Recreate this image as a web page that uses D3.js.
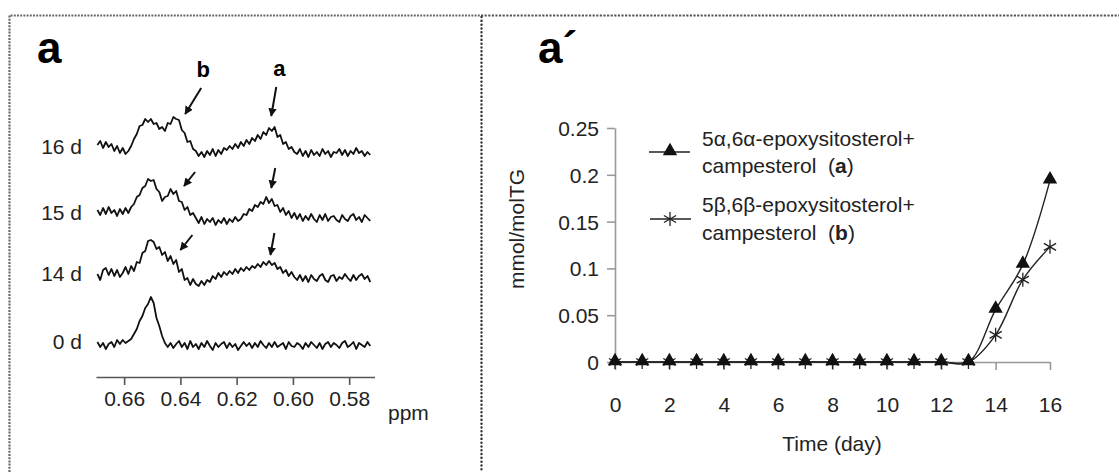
<!DOCTYPE html>
<html><head><meta charset="utf-8">
<script src="https://cdn.jsdelivr.net/npm/d3@7"></script>
<style>
html,body{margin:0;padding:0;background:#fff;}
svg{display:block;font-family:"Liberation Sans",Arial,Helvetica,sans-serif;}
</style></head>
<body>
<svg id="chart" width="1119" height="472"></svg>
<script>
// ---------- LEFT PANEL DATA (NMR spectra) ----------
const ppm = [0.6695,0.6685,0.6675,0.6665,0.6655,0.6645,0.6635,0.6625,0.6615,0.6605,
0.6595,0.6585,0.6575,0.6565,0.6555,0.6545,0.6535,0.6525,0.6515,0.6505,
0.6495,0.6485,0.6475,0.6465,0.6455,0.6445,0.6435,0.6425,0.6415,0.6405,
0.6395,0.6385,0.6375,0.6365,0.6355,0.6345,0.6335,0.6325,0.6315,0.6305,
0.6295,0.6285,0.6275,0.6265,0.6255,0.6245,0.6235,0.6225,0.6215,0.6205,
0.6195,0.6185,0.6175,0.6165,0.6155,0.6145,0.6135,0.6125,0.6115,0.6105,
0.6095,0.6085,0.6075,0.6065,0.6055,0.6045,0.6035,0.6025,0.6015,0.6005,
0.5995,0.5985,0.5975,0.5965,0.5955,0.5945,0.5935,0.5925,0.5915,0.5905,
0.5895,0.5885,0.5875,0.5865,0.5855,0.5845,0.5835,0.5825,0.5815,0.5805,
0.5795,0.5785,0.5775,0.5765,0.5755,0.5745,0.5735,0.5725];
const ppmTicks = [0.66,0.64,0.62,0.60,0.58];
const traceLabels = ["16 d","15 d","14 d","0 d"];
const spec16 = [5,9,2,8,3,6,-1,4,-3,2,-4,-1, 4,11,16,24,25,31,28, 31,26,27,21, 23,19,27,26,33,
 31,30,20,17,8,9,1, -1,-6,-2,-7,-1,-5,1,-6,0,-4,2, 0,4,1,6,2,8,4,10,6,12,9,15,11,18,15,
 22,19,23, 13,15,6,8,1,3,-2,
 -4,1,-6,-1,-7,0,-5,-2,-6,1,-4,-1,-7,-2,-3,1,-5,0,-6,-1,-4,2,-3,-1,-6,-2,-5];
const spec15 = [6,1,8,2,9,3,6,0,7,2,8,3, 9,12,19,21,28,30,37, 35,36,27,24,15,19,
 20,27,22,25,15,14,6,9,1,3, -2,-7,-1,-8,-3,-6,-2,-9,-4,-7,-2,-8,-3,-6,-1,-5,
 -3,2,1,7,5,11,9,14, 12,19,13,17,10, 11,4,8,1,5,-2,3,
 -3,2,-5,0,-4,2,-3,-6,1,-4,2,-5,-1,0,-4,-6,1,-3,-5,0,2,-4,-1,-6,1,-2,-5];
const spec14 = [3,-3,7,9,2,8,1,7,0,4,10,3, 11,6,15,14,24,26,36,
 37,35,28,30,22,25,16,21,13,17,5,8,-3,-1,-8,-2, -7,-9,-4,-8,-3,-5,
 1,-2,4,0,5,2,6,3,8,4,9,6,10,7,11,9,13,10,15,12, 16,12,14, 8,10,4,7,1,5,0,
 -3,2,-4,1,-5,2,-2,-4,1,3,-3,-5,1,2,-4,0,-2,3,-1,-4,2,-3,1,3,-2,1,-5];
const spec0 = [3,-2,2,-4,1,3,-2,5,1,5,2,4, 6,11,16,24,29,37,41,48,42,27,19,9,2,
 -2,2,-3,1,4,-2,2,-4,4,-2, 1,-4,2,-2,4,-1,-5,2,-2,1, 3,-3,2,-2,1,-5,-1,3,-1,2,
 -3,2,-2,4,0,-3,2,-2,3,-2, 0,2,-4,3,-1,-2,2,0,-4,2, -2,3,0,-3,2,-4,1,3,-2,2,
 0,-3,2,4,-2,0,3,-4,2,0, -2,3,-1];
const spectra = [spec16, spec15, spec14, spec0];

// ---------- RIGHT PANEL DATA ----------
const days = [0,1,2,3,4,5,6,7,8,9,10,11,12,13,14,15,16];
const seriesA = [0,0,0,0,0,0,0,0,0,0,0,0,0,0,0.056,0.104,0.194];
const seriesB = [0,0,0,0,0,0,0,0,0,0,0,0,0,0,0.029,0.088,0.123];
const yTicks = [0,0.05,0.1,0.15,0.2,0.25];
const xTicks = [0,2,4,6,8,10,12,14,16];
const legendA = ["5\u03b1,6\u03b1-epoxysitosterol+","campesterol  (", "a", ")"];
const legendB = ["5\u03b2,6\u03b2-epoxysitosterol+","campesterol  (", "b", ")"];

// ---------- DRAW ----------
const svg = d3.select("#chart");
const FS = 21;

// frame
svg.append("path").attr("d","M9.5,472 L9.5,15.5 L481,15.5")
  .attr("fill","none").attr("stroke","#6a6a6a").attr("stroke-width",2.2).attr("stroke-dasharray","2,1.2");
svg.append("line").attr("x1",481).attr("x2",1119).attr("y1",15.5).attr("y2",15.5)
  .attr("stroke","#555").attr("stroke-width",2.2).attr("stroke-dasharray","2.2,1.4");
svg.append("line").attr("x1",481.5).attr("x2",481.5).attr("y1",17).attr("y2",472)
  .attr("stroke","#333").attr("stroke-width",2.4).attr("stroke-linecap","round").attr("stroke-dasharray","0.1,3.7");

// left panel
const xL = d3.scaleLinear().domain([0.67,0.571]).range([96,374.5]);
const yL = d3.scaleLinear().domain([0,100]).range([0,-100]);
const traceBase = [150,216,277,345];
const left = svg.append("g");
left.append("text").attr("x",37).attr("y",63).attr("font-size",44).attr("font-weight","bold").text("a");

const lineL = d3.line().x(d=>xL(d[0])).y(d=>yL(d[1]));
spectra.forEach((s,k)=>{
  const pts = ppm.map((p,i)=>[p,s[i]]).filter(d=>d[1]!==undefined);
  left.append("path").attr("d",lineL(pts)).attr("transform",`translate(0,${traceBase[k]})`)
    .attr("fill","none").attr("stroke","#111").attr("stroke-width",1.8).attr("stroke-linejoin","round");
  left.append("text").attr("x",82).attr("y",traceBase[k]+4).attr("text-anchor","end")
    .attr("font-size",FS).attr("fill","#222").text(traceLabels[k]);
});

// arrows
const defs = svg.append("defs");
defs.append("marker").attr("id","ah").attr("viewBox","0 0 10 10").attr("refX",9).attr("refY",5)
  .attr("markerWidth",4.2).attr("markerHeight",4.2).attr("orient","auto")
  .append("path").attr("d","M0,0 L10,5 L0,10 z").attr("fill","#111");
const arrows = [
  {k:0, p:0.6383, lift:36, dx:16, dy:26},
  {k:0, p:0.6077, lift:34, dx:5, dy:29},
  {k:1, p:0.6387, lift:30, dx:11, dy:14},
  {k:1, p:0.6077, lift:28, dx:4, dy:20},
  {k:2, p:0.6400, lift:27, dx:12, dy:15},
  {k:2, p:0.6080, lift:22, dx:4, dy:22}
];
arrows.forEach(a=>{
  const tx = xL(a.p), ty = traceBase[a.k]+yL(a.lift);
  left.append("line").attr("x1",tx+a.dx).attr("y1",ty-a.dy).attr("x2",tx).attr("y2",ty)
    .attr("stroke","#111").attr("stroke-width",2).attr("marker-end","url(#ah)");
});
left.append("text").attr("x",xL(0.6383)+18).attr("y",77).attr("text-anchor","middle")
  .attr("font-size",22).attr("font-weight","bold").text("b");
left.append("text").attr("x",xL(0.6077)+8).attr("y",76).attr("text-anchor","middle")
  .attr("font-size",22).attr("font-weight","bold").text("a");

// left axis
const axL = left.append("g").attr("transform","translate(0,377)")
  .call(d3.axisBottom(xL).tickValues(ppmTicks).tickFormat(d3.format(".2f")).tickSize(8).tickSizeOuter(0));
axL.select(".domain").attr("stroke","#555").attr("stroke-width",1.6);
axL.selectAll(".tick line").attr("stroke","#555").attr("stroke-width",1.6);
axL.selectAll(".tick text").attr("y",29).attr("dy",null).attr("font-size",FS).attr("fill","#222")
  .attr("font-family","\"Liberation Sans\",Arial,sans-serif");
left.append("text").attr("x",388).attr("y",420).attr("font-size",FS).attr("fill","#222").text("ppm");

// right panel
const xR = d3.scaleLinear().domain([0,16]).range([615,1050]);
const yR = d3.scaleLinear().domain([0,0.25]).range([362,128]);
const right = svg.append("g");
right.append("text").attr("x",538).attr("y",63).attr("font-size",44).attr("font-weight","bold").text("a\u00b4");

const axY = right.append("g").attr("transform","translate(615,0)")
  .call(d3.axisLeft(yR).tickValues(yTicks).tickFormat(d=>d===0?"0":String(+d.toFixed(2))).tickSize(8).tickSizeOuter(0).tickPadding(8));
const axX = right.append("g").attr("transform","translate(0,362)")
  .call(d3.axisBottom(xR).tickValues(xTicks).tickFormat(d3.format("d")).tickSize(8).tickSizeOuter(0));
[axY,axX].forEach(a=>{
  a.select(".domain").attr("stroke","#999").attr("stroke-width",1.6);
  a.selectAll(".tick line").attr("stroke","#999").attr("stroke-width",1.6);
  a.selectAll(".tick text").attr("font-size",FS).attr("fill","#222")
   .attr("font-family","\"Liberation Sans\",Arial,sans-serif");
});
axY.selectAll(".tick text").attr("dy","0.36em");
axX.selectAll(".tick text").attr("y",50).attr("dy",null);

right.append("text").attr("transform","translate(524,229) rotate(-90)").attr("text-anchor","middle")
  .attr("font-size",FS).attr("fill","#222").text("mmol/molTG");
right.append("text").attr("x",832).attr("y",451).attr("text-anchor","middle")
  .attr("font-size",FS).attr("fill","#222").text("Time (day)");

const lineR = d3.line().x(d=>xR(d[0])).y(d=>yR(d[1])).curve(d3.curveCatmullRom.alpha(0.5));
const ptsA = days.map((d,i)=>[d,seriesA[i]]);
const ptsB = days.map((d,i)=>[d,seriesB[i]]);
right.append("path").attr("d",lineR(ptsB)).attr("fill","none").attr("stroke","#222").attr("stroke-width",1.4);
right.append("path").attr("d",lineR(ptsA)).attr("fill","none").attr("stroke","#222").attr("stroke-width",1.4);

const tri = d3.symbol().type(d3.symbolTriangle).size(90);
function star(g,cx,cy,r){
  g.append("path").attr("d",`M${cx},${cy-r}L${cx},${cy+r}M${cx-r*0.87},${cy-r*0.5}L${cx+r*0.87},${cy+r*0.5}M${cx-r*0.87},${cy+r*0.5}L${cx+r*0.87},${cy-r*0.5}`)
   .attr("stroke","#222").attr("stroke-width",1.3).attr("fill","none");
}
ptsB.forEach(d=>star(right,xR(d[0]),yR(d[1]),7));
ptsA.forEach(d=>right.append("path").attr("d",tri).attr("transform",`translate(${xR(d[0])},${yR(d[1])-1})`).attr("fill","#111"));

// legend
const lg = right.append("g");
lg.append("line").attr("x1",649).attr("x2",690).attr("y1",152).attr("y2",152).attr("stroke","#222").attr("stroke-width",1.6);
lg.append("path").attr("d",tri).attr("transform","translate(670,151)").attr("fill","#111");
lg.append("line").attr("x1",650).attr("x2",691).attr("y1",219).attr("y2",219).attr("stroke","#222").attr("stroke-width",1.6);
star(lg,670,219,7);
[[legendA,146,173],[legendB,212,240]].forEach(([L,y1,y2])=>{
  lg.append("text").attr("x",702).attr("y",y1).attr("font-size",FS).attr("fill","#222").text(L[0]);
  const t = lg.append("text").attr("x",702).attr("y",y2).attr("font-size",FS).attr("fill","#222").attr("xml:space","preserve");
  t.append("tspan").text(L[1]);
  t.append("tspan").attr("font-weight","bold").text(L[2]);
  t.append("tspan").text(L[3]);
});
</script>
</body></html>
